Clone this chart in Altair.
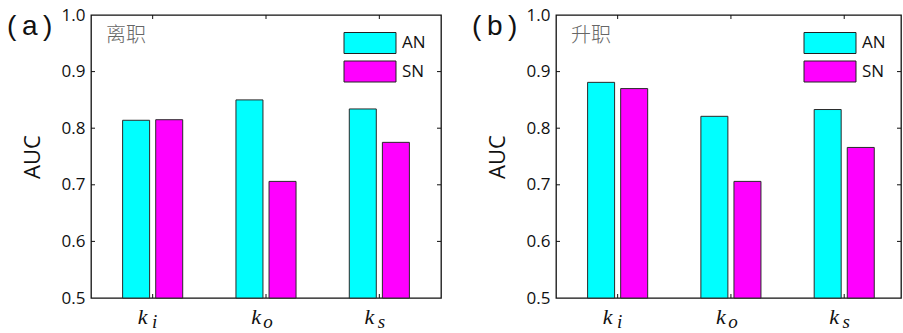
import altair as alt
import pandas as pd

# AUC of each centrality index, for the two networks (AN, SN)
indices = [1, 2, 3]
subscripts = ["i", "o", "s"]
series = ["AN", "SN"]
colors = ["#00FFFF", "#FF00FF"]

quit_an = [0.814, 0.850, 0.834]
quit_sn = [0.815, 0.706, 0.775]
promo_an = [0.881, 0.821, 0.833]
promo_sn = [0.870, 0.706, 0.766]

y_ticks = [0.5, 0.6, 0.7, 0.8, 0.9, 1.0]

PLOT_H = 283
SANS = "Open Sans"
SERIF = "Liberation Serif"

# wide rectangle swatch for the legend (52 x 21 px at size 441)
SWATCH = "M-2.476,-1H2.476V1H-2.476Z"


def panel(an, sn, tag, caption, width, x_max):
    rows = []
    for g, a, s in zip(indices, an, sn):
        rows.append({"g": g, "series": "AN", "auc": a})
        rows.append({"g": g, "series": "SN", "auc": s})
    bars_df = pd.DataFrame(rows)
    xs = alt.Scale(domain=[0.5, x_max], nice=False, zero=False)
    ys = alt.Scale(domain=[0.5, 1.0], nice=False, zero=False)

    bars = (
        alt.Chart(bars_df)
        .transform_calculate(pos="datum.g + (datum.series == 'AN' ? -0.146 : 0.146)")
        .mark_bar(width=27, stroke="#2a2a2a", strokeWidth=1)
        .encode(
            x=alt.X("pos:Q", scale=xs, axis=None),
            y=alt.Y(
                "auc:Q",
                scale=ys,
                axis=alt.Axis(
                    values=y_ticks,
                    format=".1f",
                    ticks=False,
                    domain=False,
                    grid=False,
                    labelFont=SANS,
                    labelFontSize=17,
                    labelColor="#111",
                    labelPadding=6,
                    title="AUC",
                    titleFont=SANS,
                    titleFontSize=22,
                    titleFontWeight="normal",
                    titleColor="#111",
                    titlePadding=17,
                ),
            ),
            y2=alt.datum(0.5),
            color=alt.Color(
                "series:N",
                scale=alt.Scale(domain=series, range=colors),
                legend=alt.Legend(
                    orient="none",
                    legendX=width - 350 + 268,
                    legendY=17,
                    title=None,
                    symbolType=SWATCH,
                    symbolSize=441,
                    symbolStrokeColor="#222",
                    symbolStrokeWidth=1,
                    symbolOpacity=1,
                    labelFont=SANS,
                    labelFontSize=17,
                    labelColor="#111",
                    labelOffset=21,
                    rowPadding=2.5,
                ),
            ),
        )
    )

    ytick_df = pd.DataFrame({"v": y_ticks[1:-1]})
    left_ticks = alt.Chart(ytick_df).mark_rule(color="#111", strokeWidth=1).encode(
        y=alt.Y("v:Q", scale=ys), x=alt.value(0), x2=alt.value(4)
    )
    right_ticks = alt.Chart(ytick_df).mark_rule(color="#111", strokeWidth=1).encode(
        y=alt.Y("v:Q", scale=ys), x=alt.value(width - 4), x2=alt.value(width)
    )
    xtick_df = pd.DataFrame({"g": indices, "sub": subscripts})
    bottom_ticks = alt.Chart(xtick_df).mark_rule(color="#111", strokeWidth=1).encode(
        x=alt.X("g:Q", scale=xs), y=alt.value(PLOT_H - 4), y2=alt.value(PLOT_H)
    )
    top_ticks = alt.Chart(xtick_df).mark_rule(color="#111", strokeWidth=1).encode(
        x=alt.X("g:Q", scale=xs), y=alt.value(0), y2=alt.value(4)
    )

    k_text = alt.Chart(xtick_df).mark_text(
        text="k", font=SERIF, fontStyle="italic", fontSize=22, align="center",
        baseline="alphabetic", dx=-10, color="#111",
    ).encode(x=alt.X("g:Q", scale=xs), y=alt.value(PLOT_H + 26))
    sub_text = alt.Chart(xtick_df).mark_text(
        font=SERIF, fontStyle="italic", fontSize=19, align="center",
        baseline="alphabetic", dx=2, color="#111",
    ).encode(x=alt.X("g:Q", scale=xs), y=alt.value(PLOT_H + 30), text="sub:N")

    tag_text = alt.Chart(pd.DataFrame({"t": [tag]})).mark_text(
        font="Liberation Sans", fontSize=28, align="left", baseline="alphabetic", color="#111"
    ).encode(text="t:N", x=alt.value(-84), y=alt.value(20))
    cap_text = alt.Chart(pd.DataFrame({"t": [caption]})).mark_text(
        font="Noto Sans CJK SC", fontSize=20, fontWeight=300, align="left",
        baseline="middle", color="#666",
    ).encode(text="t:N", x=alt.value(15), y=alt.value(21))

    return alt.layer(
        bars, left_ticks, right_ticks, bottom_ticks, top_ticks,
        k_text, sub_text, tag_text, cap_text,
    ).properties(width=width, height=PLOT_H)


left = panel(quit_an, quit_sn, "(\u2009a\u2009)", "离职", 350, 3.5)
right = panel(promo_an, promo_sn, "(\u2009b\u2009)", "升职", 345, 0.5 + 3 * 345 / 350)

chart = (
    alt.hconcat(left, right, spacing=28)
    .resolve_scale(color="independent")
    .properties(padding={"left": 6, "top": 5, "right": 0, "bottom": 0}, background="white")
    .configure_view(stroke="#111", strokeWidth=1.3)
)

chart.save("out.html", embed_options={"renderer": "svg", "actions": False})
